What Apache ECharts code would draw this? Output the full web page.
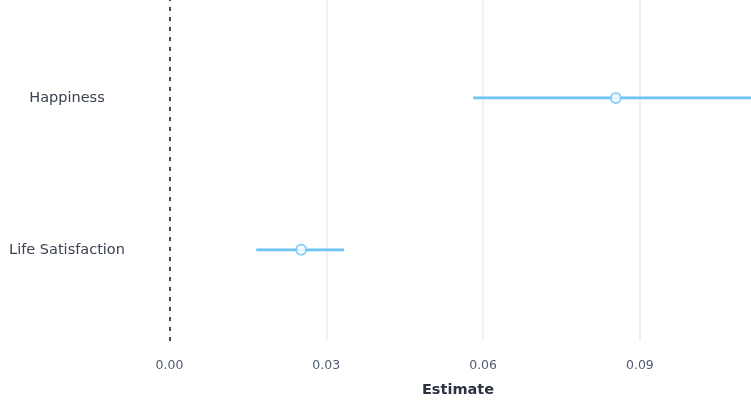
<!DOCTYPE html>
<html>
<head>
<meta charset="utf-8">
<script src="https://cdn.jsdelivr.net/npm/echarts@6/dist/echarts.min.js"></script>
<style>
  html, body { margin: 0; padding: 0; background: #ffffff; }
  #chart { width: 751px; height: 403px; }
</style>
</head>
<body>
<div id="chart"></div>
<script>
// Outcome rows, bottom to top
const outcomes = ['Life Satisfaction', 'Happiness'];
const rowPos = [1, 2];
const estimates = [0.0252, 0.0854];
const lowerCI = [0.0166, 0.0581];
const upperCI = [0.0334, 0.1127];
const tickValues = [0, 0.03, 0.06, 0.09];

const ciColor = '#6cc4f7';

const intervalSeries = outcomes.map((name, i) => ({
  type: 'line',
  name: name,
  data: [[lowerCI[i], rowPos[i]], [upperCI[i], rowPos[i]]],
  symbol: 'none',
  lineStyle: { color: ciColor, width: 2.8 },
  z: 3,
  silent: true
}));

const chart = echarts.init(document.getElementById('chart'), null, { renderer: 'canvas' });
chart.setOption({
  animation: false,
  backgroundColor: '#ffffff',
  grid: { left: 140, top: 0, width: 636, height: 341, containLabel: false, outerBoundsMode: 'none' },
  xAxis: {
    type: 'value',
    min: -0.00564,
    max: 0.11604,
    axisLine: { show: false },
    axisTick: { show: false, customValues: tickValues },
    splitLine: { show: true, lineStyle: { color: '#ececec', width: 1.5 } },
    axisLabel: {
      customValues: tickValues,
      formatter: v => v.toFixed(2),
      margin: 18,
      fontFamily: 'DejaVu Sans',
      fontSize: 12.5,
      color: '#525b6e'
    },
    name: 'Estimate',
    nameLocation: 'middle',
    nameGap: 42,
    nameTextStyle: {
      fontFamily: 'DejaVu Sans',
      fontWeight: 'bold',
      fontSize: 14.5,
      color: '#2b3240'
    }
  },
  yAxis: {
    type: 'value',
    min: 0.4,
    max: 2.645,
    axisLine: { show: false },
    axisTick: { show: false, customValues: rowPos },
    splitLine: { show: false },
    axisLabel: {
      customValues: rowPos,
      formatter: v => outcomes[rowPos.indexOf(v)] || '',
      align: 'center',
      margin: 73,
      padding: [4, 0, 0, 0],
      fontFamily: 'DejaVu Sans',
      fontSize: 14.5,
      color: '#3a4150'
    }
  },
  series: [
    ...intervalSeries,
    {
      type: 'scatter',
      name: 'Estimate',
      data: estimates.map((v, i) => [v, rowPos[i]]),
      symbol: 'circle',
      symbolSize: 10,
      itemStyle: { color: '#ffffff', borderColor: ciColor, borderWidth: 2 },
      z: 5,
      silent: true,
      markLine: {
        silent: true,
        symbol: 'none',
        label: { show: false },
        lineStyle: { color: '#222222', type: [4, 6], width: 1.6 },
        data: [{ xAxis: 0 }]
      }
    }
  ]
});
</script>
</body>
</html>
